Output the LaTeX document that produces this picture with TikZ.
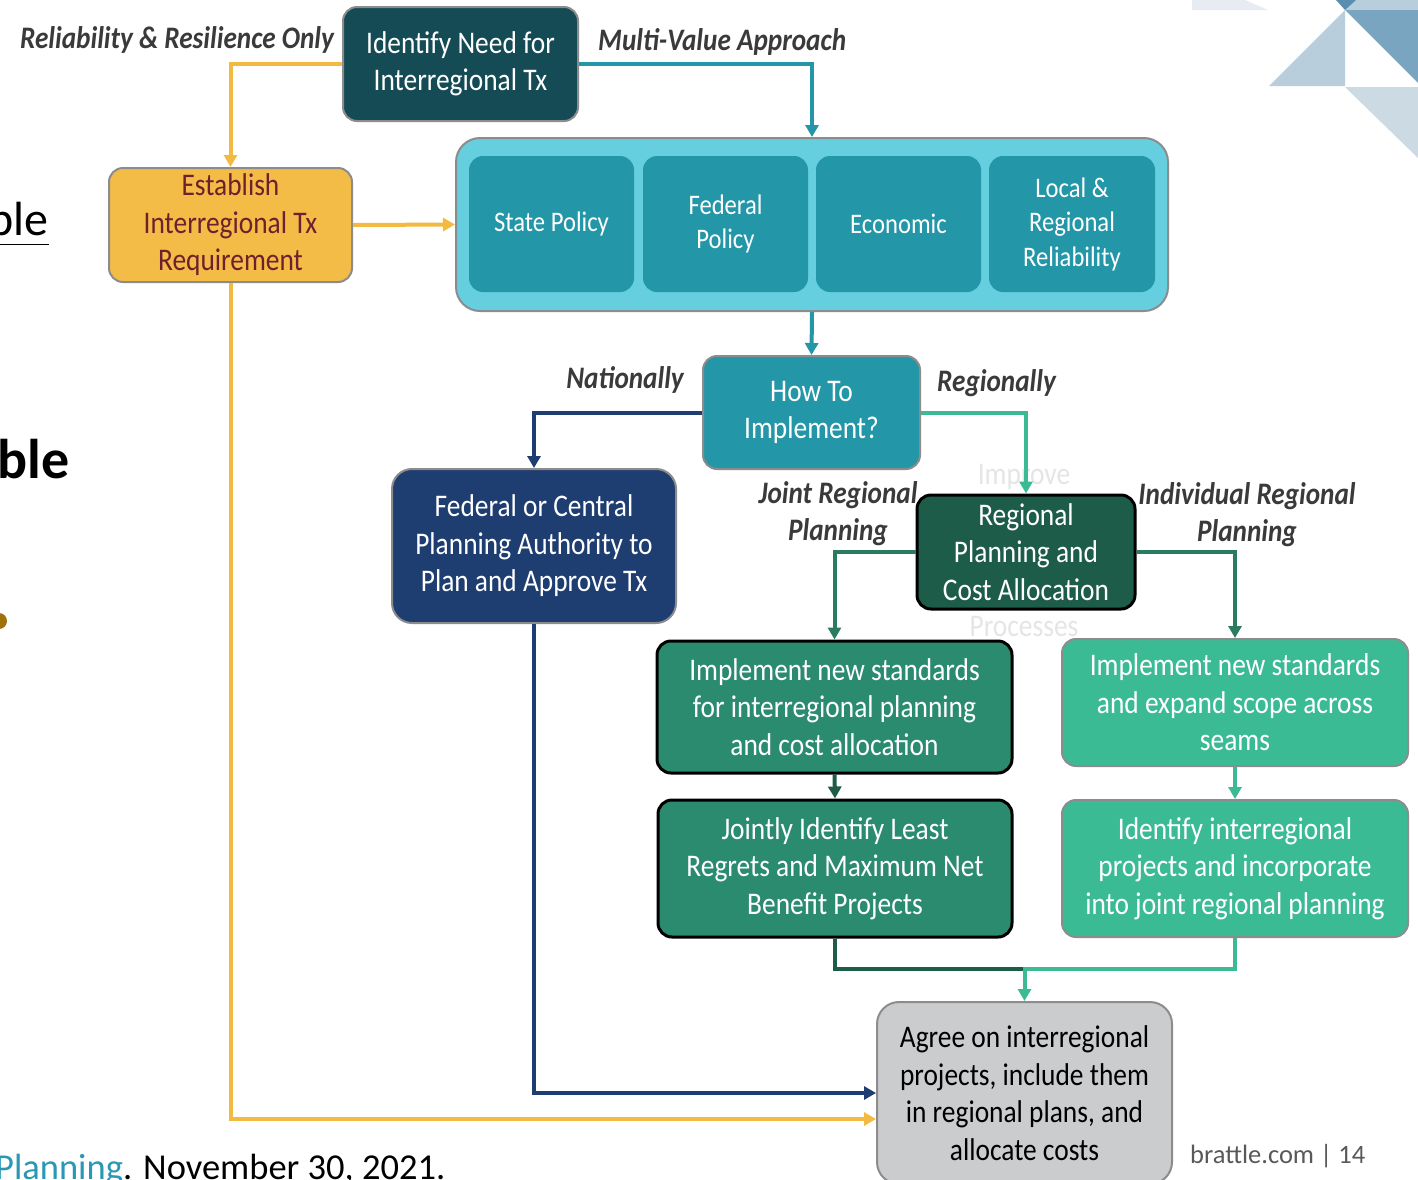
\documentclass[tikz,border=0pt]{standalone}
\usepackage{fontspec}
\setmainfont{Carlito}[FakeStretch=0.87]
\newfontfamily\plainfont{Carlito}
\usetikzlibrary{arrows.meta,calc}
\definecolor{bordergray}{HTML}{8C8C8C}
\definecolor{tealdark}{HTML}{144B55}
\definecolor{tealmid}{HTML}{2396A8}
\definecolor{cyanlight}{HTML}{65CFE0}
\definecolor{goldfill}{HTML}{F3BC47}
\definecolor{goldline}{HTML}{F3BA42}
\definecolor{maroon}{HTML}{70202D}
\definecolor{navy}{HTML}{1E3D70}
\definecolor{greendark}{HTML}{1D5C49}
\definecolor{greenmid}{HTML}{2A8B6F}
\definecolor{greenlight}{HTML}{3BBB94}
\definecolor{greenline}{HTML}{2B7A62}
\definecolor{agreegray}{HTML}{CBCCCE}
\definecolor{labelgray}{HTML}{3A3A3A}
\definecolor{footgray}{HTML}{595959}
\definecolor{linkteal}{HTML}{2A97B4}
\definecolor{bulletbrown}{HTML}{A0700A}
\definecolor{triA}{HTML}{79A5C0}
\definecolor{triB}{HTML}{B8CEDC}
\definecolor{triC}{HTML}{CCDAE3}
\definecolor{triD}{HTML}{5A8EB0}
\definecolor{triE}{HTML}{E6ECF1}
\newcommand\fsA{\fontsize{31.5}{37.5}\selectfont}
\newcommand\fsB{\fontsize{28.3}{34.5}\selectfont}
\newcommand\fsL{\fontsize{31.3}{37}\selectfont\bfseries\itshape}
\tikzset{
  box/.style={draw=bordergray, line width=2pt, rounded corners=14pt, inner sep=0pt,
    align=center, text=white, font=\fsA},
  innerbox/.style={box, draw=none, fill=tealmid, font=\fsB, minimum width=165pt, minimum height=136pt},
  blackedge/.style={draw=black, line width=3pt},
  lbl/.style={font=\fsL, text=labelgray, inner sep=0pt, align=center},
  conn/.style={line width=4pt, -{Triangle[length=12pt,width=13pt]}},
  plain/.style={line width=4pt},
}
\begin{document}
\begin{tikzpicture}[x=1pt,y=-1pt]
\path[clip] (0,0) rectangle (1418,1179);
\fill[white] (0,0) rectangle (1418,1179);

% top-right decoration
\fill[triE] (1192,0) -- (1245,0) -- (1268,10) -- (1192,10) -- cycle;
\fill[triB] (1345,0) -- (1418,0) -- (1418,10) -- (1345,10) -- cycle;
\fill[triD] (1336,0) -- (1356,0) -- (1345,10) -- cycle;
\fill[triA] (1345,10) -- (1418,10) -- (1418,83) -- cycle;
\fill[triB] (1345,10) -- (1345,86) -- (1269,86) -- cycle;
\fill[triC] (1345,87) -- (1418,87) -- (1418,158) -- cycle;

% cut-off slide fragments on the left / bottom
\node[anchor=base east, inner sep=0pt, font=\plainfont\fontsize{48}{56}\selectfont] (frag1) at (49,235) {\underline{ple}};
\node[anchor=base east, inner sep=0pt, font=\plainfont\fontsize{56}{64}\selectfont\bfseries] (frag2) at (70,478) {ble};
\fill[bulletbrown] (-1,621) circle (8pt);
\node[anchor=base west, inner sep=0pt, font=\plainfont\fontsize{36.5}{42}\selectfont] (cite) at (-5,1179) {\textcolor{linkteal}{Planning}. November 30, 2021.};
\node[anchor=west, inner sep=0pt, font=\plainfont\fontsize{26.5}{32}\selectfont, text=footgray] (foot) at (1190,1156) {brattle.com | 14};

% boxes
\node[box, fill=tealdark, minimum width=235pt, minimum height=114pt] (ident) at (460.5,64) {Identify Need for\\Interregional Tx};
\node[box, fill=goldfill, text=maroon, minimum width=243pt, minimum height=114pt] (estab) at (230.5,225) {Establish\\Interregional Tx\\Requirement};
\node[box, fill=cyanlight, rounded corners=24pt, minimum width=712pt, minimum height=173pt] (cont) at (812,224.5) {};
\node[innerbox] (sp) at (551.5,224) {State Policy};
\node[innerbox] (fp) at (725.5,224) {Federal\\Policy};
\node[innerbox] (ec) at (898.5,224) {Economic};
\node[innerbox, minimum width=166pt] (lr) at (1072,224) {Local \&\\Regional\\Reliability};
\node[box, fill=tealmid, minimum width=217pt, minimum height=113pt] (howto) at (811.5,412.5) {How To\\Implement?};
\node[box, fill=navy, rounded corners=20pt, minimum width=284pt, minimum height=154pt] (fed) at (534,546) {Federal or Central\\Planning Authority to\\Plan and Approve Tx};
\node[box, blackedge, fill=greendark, minimum width=218pt, minimum height=114pt] (reg) at (1026,552) {Regional\\Planning and\\Cost Allocation};
\node[box, blackedge, fill=greenmid, minimum width=355pt, minimum height=132pt] (j1) at (834.5,707) {Implement new standards\\for interregional planning\\and cost allocation};
\node[box, fill=greenlight, minimum width=346pt, minimum height=127pt] (i1) at (1235,702.5) {Implement new standards\\and expand scope across\\seams};
\node[box, blackedge, fill=greenmid, minimum width=354pt, minimum height=137pt] (j2) at (835,868.5) {Jointly Identify Least\\Regrets and Maximum Net\\Benefit Projects};
\node[box, fill=greenlight, minimum width=346pt, minimum height=137pt] (i2) at (1235,868.5) {Identify interregional\\projects and incorporate\\into joint regional planning};
\node[box, fill=agreegray, text=black, rounded corners=22pt, minimum width=295pt, minimum height=182pt] (agree) at (1024.5,1093) {Agree on interregional\\projects, include them\\in regional plans, and\\allocate costs};

% faint texts
\node[font=\fsA, text=black!10, inner sep=0pt] (improve) at (1024,477) {Improve};
\node[font=\fsA, text=black!10, inner sep=0pt] (processes) at (1024,626) {Processes};

% labels
\node[lbl, anchor=east] (l1) at (334,40) {Reliability \& Resilience Only};
\node[lbl, anchor=west] (l2) at (598,42) {Multi-Value Approach};
\node[lbl, anchor=east] (l3) at (684,380) {Nationally};
\node[lbl, anchor=west] (l4) at (937,383) {Regionally};
\node[lbl] (l5) at (838,514) {Joint Regional\\Planning};
\node[lbl] (l6) at (1247,515) {Individual Regional\\Planning};

% connectors
\coordinate (merge) at (1024.5,969);
\coordinate (agreeG) at ($(agree.west)+(0,26)$);
\draw[conn, goldline] (ident.west) -| (estab.north);
\draw[conn, tealmid] (ident.east) -| (cont.north);
\draw[conn, goldline] (estab.east) -- (cont.west);
\draw[conn, tealmid] (cont.south) -- (howto.north);
\draw[conn, navy] (howto.west) -| (fed.north);
\draw[conn, greenlight] (howto.east) -| (reg.north);
\draw[conn, greenline] (reg.west) -| (j1.north);
\draw[conn, greenline] (reg.east) -| (i1.north);
\draw[conn, greendark] (j1.south) -- (j2.north);
\draw[conn, greenlight] (i1.south) -- (i2.north);
\draw[plain, greendark] (j2.south) |- (merge);
\draw[conn, greenlight] (i2.south) |- (merge) -- (agree.north);
\draw[conn, navy] (fed.south) |- (agree.west);
\draw[conn, goldline] (estab.south) |- (agreeG);
\end{tikzpicture}
\end{document}
